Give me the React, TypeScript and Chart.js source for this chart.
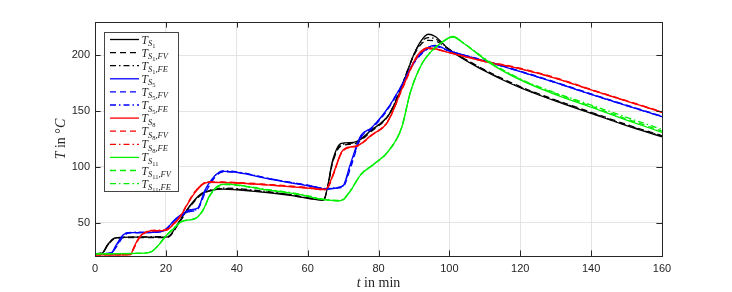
import { useEffect, useRef } from "react";
import { Chart, registerables } from "chart.js";

Chart.register(...registerables);

// ---------- ticks ----------
const xTicks = [0, 20, 40, 60, 80, 100, 120, 140, 160];
const yTicks = [50, 100, 150, 200];

// ---------- sensor S1 (black) ----------
const tS1 = [0, 2, 3.5, 5.5, 10, 20, 21, 24, 27, 30, 33, 36, 45, 55, 64.5, 65.5, 67, 69.5, 73, 78, 83, 86, 88, 90, 92, 94, 96, 100, 110, 120, 130, 140, 150, 160];
const S1 = [22, 22.5, 30, 36, 37, 37, 38, 52, 66, 76, 79, 80, 78, 74.5, 70, 80, 105, 121, 122, 133, 147, 167, 184, 201, 213, 219, 217, 205, 186, 171, 159, 148, 137, 127];
const S1_FV = [22, 22.5, 29, 35.5, 36.5, 36.5, 37.5, 51, 65, 75, 79, 80.5, 78.5, 75, 70.5, 79, 103, 119, 120.5, 132, 147, 168, 185, 200, 210, 213.5, 213, 205, 187, 172, 160, 149, 138, 128];
const S1_FE = [22, 22.5, 29.5, 36, 37, 37.5, 38, 52, 65.5, 75.5, 79.5, 81, 79, 75, 70.5, 79.5, 104, 120, 121.5, 133, 147.5, 168, 185, 201, 212, 216, 215, 205.5, 186.5, 171.5, 159.5, 148.5, 137.5, 127.5];

// ---------- sensor S5 (blue) ----------
const tS5 = [0, 4.5, 6, 8, 9.5, 15, 19, 23, 27, 29, 31, 33, 34.5, 36.5, 40, 50, 60, 65.5, 68, 70, 72, 75, 78, 82.5, 86.5, 90, 94, 96, 100, 110, 120, 130, 140, 150, 160];
const S5 = [22, 22.5, 30, 39, 41, 41, 42, 54, 61.5, 63, 79, 89, 94, 96, 95, 88.5, 83, 80, 81, 83, 102, 128, 135, 152, 173, 194, 207, 209, 204, 195, 185.5, 175.5, 165, 155, 145];
const S5_FV = [22, 22.5, 28, 37.5, 40.5, 41, 42, 53, 60, 62, 76, 87, 93, 95.5, 95, 89, 83.5, 80.5, 81, 82, 98, 126, 134, 151, 172, 193, 206, 208, 204, 195.5, 186, 176, 165.5, 155.5, 145.5];
const S5_FE = [22, 22.5, 29, 38.5, 41, 41.5, 42.5, 53.5, 60.5, 62.5, 77.5, 88, 94, 96.5, 95.5, 89, 83.5, 80.5, 81.5, 83, 100, 127, 135, 152, 173, 194, 207, 208.5, 204, 195, 185.5, 175.5, 165, 155, 145];

// ---------- sensor S8 (red) ----------
const tS8 = [0, 10, 11, 12.5, 14, 16, 20, 22, 24, 26, 28, 30.5, 32, 40, 50, 60, 65, 66, 67.5, 69.5, 71, 74, 78, 82.5, 87, 91, 94, 96, 100, 110, 120, 130, 140, 150, 160];
const S8 = [21, 21.3, 28, 37, 41, 42.5, 43, 48, 55, 66, 76, 84.5, 86, 85.5, 83.5, 81, 79.5, 84, 96, 113, 117, 119, 128.5, 140, 173, 200, 207, 206, 202.5, 194.5, 188, 179.5, 169, 159, 149];
const S8_FV = [21, 21.3, 27, 36, 40.5, 42.5, 43.5, 48.5, 55.5, 66.5, 77, 85, 86.5, 86, 84, 81.5, 80, 83, 95, 112, 116.5, 118.5, 128, 140, 172, 199, 206, 205.5, 202.5, 195, 188.5, 180, 169.5, 159.5, 149.5];
const S8_FE = [21, 21.3, 27.5, 36.5, 41, 43, 43.5, 48, 55, 66, 76.5, 85, 86.5, 85.5, 83.5, 81, 79.5, 83.5, 95.5, 112.5, 117, 119, 128.5, 140.5, 173, 200, 206.5, 206, 202.5, 194.5, 188, 179.5, 169, 159, 149];

// ---------- sensor S11 (green) ----------
const tS11 = [0, 14, 16, 18, 20, 22, 24.5, 28.5, 30.5, 32.5, 35.5, 37, 48, 58, 64.6, 68.5, 70, 72, 75, 78.5, 82.5, 86.5, 89, 92, 95, 98, 101, 104, 111, 120, 129, 140, 150, 160];
const S11 = [22, 22.5, 24, 30, 38, 44, 51, 54, 61.5, 75, 84, 84.5, 79.5, 75, 70.5, 69.5, 70.5, 78, 93, 102, 113, 135, 167, 191, 204, 212, 217, 211, 194, 178, 166, 153.5, 142, 131];
const S11_FV = [22, 22.5, 24, 30, 38, 44, 51, 54, 61, 74.5, 83.5, 84, 79.5, 75, 70.5, 69.5, 70.5, 78, 93, 102, 113, 135, 167, 191, 204, 212, 216.5, 211, 194.5, 178.5, 167, 154.5, 143, 132];
const S11_FE = [22, 22.5, 24, 30, 38, 44, 51, 54, 61.5, 75, 84, 84.5, 80, 75.5, 71, 70, 71, 78.5, 93, 102, 113, 135, 167, 191, 204, 212, 216.5, 211, 195, 179, 167.5, 155.5, 144.5, 133.5];

const BLACK = "#000000";
const BLUE = "#0000ff";
const RED = "#ff0000";
const GREEN = "#00f000";
const DASH = [6, 4];
const DASHDOT = [6, 3, 1.5, 3];

type Series = { num: string; suf: string; color: string; dash: number[]; t: number[]; v: number[] };

const series: Series[] = [
  { num: "1", suf: "", color: BLACK, dash: [], t: tS1, v: S1 },
  { num: "1", suf: ",FV", color: BLACK, dash: DASH, t: tS1, v: S1_FV },
  { num: "1", suf: ",FE", color: BLACK, dash: DASHDOT, t: tS1, v: S1_FE },
  { num: "5", suf: "", color: BLUE, dash: [], t: tS5, v: S5 },
  { num: "5", suf: ",FV", color: BLUE, dash: DASH, t: tS5, v: S5_FV },
  { num: "5", suf: ",FE", color: BLUE, dash: DASHDOT, t: tS5, v: S5_FE },
  { num: "8", suf: "", color: RED, dash: [], t: tS8, v: S8 },
  { num: "8", suf: ",FV", color: RED, dash: DASH, t: tS8, v: S8_FV },
  { num: "8", suf: ",FE", color: RED, dash: DASHDOT, t: tS8, v: S8_FE },
  { num: "11", suf: "", color: GREEN, dash: [], t: tS11, v: S11 },
  { num: "11", suf: ",FV", color: GREEN, dash: DASH, t: tS11, v: S11_FV },
  { num: "11", suf: ",FE", color: GREEN, dash: DASHDOT, t: tS11, v: S11_FE },
];

const AXIS_COLOR = "#262626";
const SERIF = '"Liberation Serif", "DejaVu Serif", serif';

type Seg = { text: string; font: string; dy?: number };

function drawSegs(ctx: CanvasRenderingContext2D, segs: Seg[], x: number, y: number) {
  let cx = x;
  for (const s of segs) {
    ctx.font = s.font;
    ctx.fillText(s.text, cx, y + (s.dy || 0));
    cx += ctx.measureText(s.text).width;
  }
  return cx - x;
}

function segsWidth(ctx: CanvasRenderingContext2D, segs: Seg[]) {
  let w = 0;
  for (const s of segs) {
    ctx.font = s.font;
    w += ctx.measureText(s.text).width;
  }
  return w;
}

const decorPlugin = {
  id: "decor",
  afterDraw(chart: any) {
    const { ctx, chartArea: a, scales } = chart;
    ctx.save();
    // frame
    ctx.strokeStyle = AXIS_COLOR;
    ctx.lineWidth = 1;
    ctx.setLineDash([]);
    ctx.strokeRect(Math.round(a.left) + 0.5, Math.round(a.top) + 0.5, Math.round(a.right - a.left), Math.round(a.bottom - a.top));
    const tl = 5.6;
    ctx.beginPath();
    for (const v of xTicks) {
      const px = Math.round(scales.x.getPixelForValue(v)) + 0.5;
      ctx.moveTo(px, a.bottom);
      ctx.lineTo(px, a.bottom - tl);
      ctx.moveTo(px, a.top);
      ctx.lineTo(px, a.top + tl);
    }
    for (const v of yTicks) {
      const py = Math.round(scales.y.getPixelForValue(v)) + 0.5;
      ctx.moveTo(a.left, py);
      ctx.lineTo(a.left + tl, py);
      ctx.moveTo(a.right, py);
      ctx.lineTo(a.right - tl, py);
    }
    ctx.stroke();

    // legend
    const lx0 = 104.5, ly0 = 32.5, lw = 74, lh = 159;
    ctx.fillStyle = "#ffffff";
    ctx.fillRect(lx0, ly0, lw, lh);
    ctx.strokeStyle = "#444444";
    ctx.lineWidth = 1;
    ctx.strokeRect(lx0, ly0, lw, lh);
    const rowH = 13.1;
    series.forEach((s, i) => {
      const y = 39.5 + i * rowH;
      ctx.strokeStyle = s.color;
      ctx.lineWidth = 1.3;
      ctx.setLineDash(s.dash);
      ctx.beginPath();
      ctx.moveTo(110, y);
      ctx.lineTo(139, y);
      ctx.stroke();
      ctx.setLineDash([]);
      ctx.fillStyle = AXIS_COLOR;
      ctx.textAlign = "left";
      ctx.textBaseline = "alphabetic";
      const segs: Seg[] = [
        { text: "T", font: `italic 11.5px ${SERIF}` },
        { text: "S", font: `italic 8.5px ${SERIF}`, dy: 2.5 },
        { text: s.num, font: `6.5px ${SERIF}`, dy: 4.5 },
      ];
      if (s.suf) {
        segs.push({ text: ",", font: `8.5px ${SERIF}`, dy: 2.5 });
        segs.push({ text: s.suf.slice(1), font: `italic 8.5px ${SERIF}`, dy: 2.5 });
      }
      drawSegs(ctx, segs, 141.5, y + 4);
    });

    // axis titles
    ctx.fillStyle = AXIS_COLOR;
    ctx.textBaseline = "alphabetic";
    ctx.textAlign = "left";
    const xt: Seg[] = [
      { text: "t", font: `italic 14px ${SERIF}` },
      { text: " in min", font: `14px ${SERIF}` },
    ];
    const xw = segsWidth(ctx, xt);
    drawSegs(ctx, xt, (a.left + a.right) / 2 - xw / 2, 287);

    const yt: Seg[] = [
      { text: "T", font: `italic 14px ${SERIF}` },
      { text: " in ", font: `14px ${SERIF}` },
      { text: "\u00B0", font: `14px ${SERIF}` },
      { text: "C", font: `italic 14px ${SERIF}` },
    ];
    const yw = segsWidth(ctx, yt);
    ctx.translate(64.5, (a.top + a.bottom) / 2);
    ctx.rotate(-Math.PI / 2);
    drawSegs(ctx, yt, -yw / 2, 0);
    ctx.restore();
  },
};

export default function App() {
  const ref = useRef<HTMLCanvasElement | null>(null);
  useEffect(() => {
    if (!ref.current) return;
    const chart = new Chart(ref.current, {
      type: "line",
      data: {
        datasets: series.map((s, i) => ({
          label: "T_S" + s.num + s.suf,
          data: s.t.map((x, k) => ({ x, y: s.v[k] })),
          borderColor: s.color,
          backgroundColor: s.color,
          borderWidth: 1.3,
          borderDash: s.dash,
          pointRadius: 0,
          fill: false,
          cubicInterpolationMode: "monotone" as const,
          order: series.length - 1 - i,
        })),
      },
      options: {
        responsive: false,
        animation: false,
        devicePixelRatio: 1,
        layout: { padding: { left: 0, top: 22, right: 70, bottom: 0 } },
        plugins: { legend: { display: false }, tooltip: { enabled: false } },
        scales: {
          x: {
            type: "linear",
            min: 0,
            max: 160,
            afterBuildTicks: (scale: any) => {
              scale.ticks = xTicks.map((v) => ({ value: v }));
            },
            afterFit: (scale: any) => {
              scale.height = 36;
            },
            grid: { color: "#e4e4e4", lineWidth: 1, drawTicks: false },
            border: { display: false },
            ticks: {
              padding: 6,
              color: AXIS_COLOR,
              font: { family: '"Liberation Sans", Arial, sans-serif', size: 11 },
              maxRotation: 0,
            },
          },
          y: {
            type: "linear",
            min: 20,
            max: 230,
            afterBuildTicks: (scale: any) => {
              scale.ticks = yTicks.map((v) => ({ value: v }));
            },
            afterFit: (scale: any) => {
              scale.width = 95;
            },
            grid: { color: "#e4e4e4", lineWidth: 1, drawTicks: false },
            border: { display: false },
            ticks: {
              padding: 5,
              color: AXIS_COLOR,
              font: { family: '"Liberation Sans", Arial, sans-serif', size: 11 },
            },
          },
        },
      },
      plugins: [decorPlugin],
    });
    return () => chart.destroy();
  }, []);

  return (
    <div style={{ position: "fixed", left: 0, top: 0, width: 732, height: 292, background: "#ffffff" }}>
      <canvas ref={ref} width={732} height={292} style={{ width: 732, height: 292, display: "block" }} />
    </div>
  );
}
